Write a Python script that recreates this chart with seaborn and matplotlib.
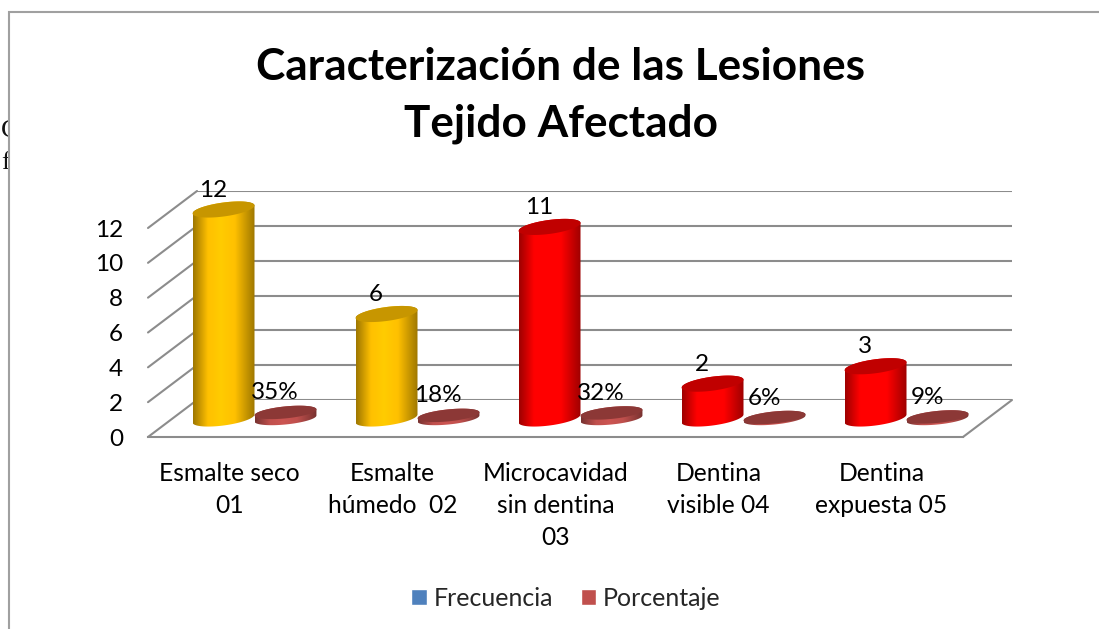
import numpy as np
import pandas as pd
import matplotlib
matplotlib.use("Agg")
import matplotlib.pyplot as plt
import seaborn as sns
from matplotlib.colors import LinearSegmentedColormap, to_rgb
from matplotlib.patches import ConnectionPatch, PathPatch, Polygon, Rectangle
from matplotlib.path import Path

categories = ["Esmalte seco\n01", "Esmalte\nhúmedo  02", "Microcavidad\nsin dentina\n03",
              "Dentina\nvisible 04", "Dentina\nexpuesta 05"]
frecuencia = [12, 6, 11, 2, 3]
porcentaje = [0.35, 0.18, 0.32, 0.06, 0.09]
freq_labels = ["12", "6", "11", "2", "3"]
pct_labels = ["35%", "18%", "32%", "6%", "9%"]
freq_colors = ["#FFC000", "#FFC000", "#FF0000", "#FF0000", "#FF0000"]
freq_tops = ["#C79600", "#C79600", "#C00000", "#C00000", "#C00000"]
yticks = [0, 2, 4, 6, 8, 10, 12]

W, H = 1099, 629
# front plane of the 3d box, in pixels
LEFT, RIGHT, BOTTOM, TOP = 148, 963, 437, 228
PX_Y = (BOTTOM - TOP) / 12
GREY = "#8C8C8C"

sns.set_theme(style="white")
plt.rcParams["font.family"] = ["Lato", "DejaVu Sans"]

df = pd.DataFrame({
    "categoria": categories * 2,
    "valor": frecuencia + porcentaje,
    "serie": ["Frecuencia"] * 5 + ["Porcentaje"] * 5,
})


def box_axes(fig, dx, dy):
    ax = fig.add_axes([(LEFT + dx) / W, 1 - (BOTTOM - dy) / H,
                       (RIGHT - LEFT) / W, (BOTTOM - TOP) / H])
    ax.patch.set_alpha(0)
    for s in ax.spines.values():
        s.set_visible(False)
    return ax


def cylinder(ax, cx, half, value, color, top_color, z, b=7, tilt=4):
    # outline: bottom arc, then top arc; b and tilt are pixels
    t = np.linspace(np.pi, 2 * np.pi, 40)
    body = np.column_stack([cx + half * np.cos(t),
                            (b * np.sin(t) + tilt * np.cos(t)) / PX_Y])
    t2 = np.linspace(0, np.pi, 40)
    up = np.column_stack([cx + half * np.cos(t2),
                          value + (b * np.sin(t2) + tilt * np.cos(t2)) / PX_Y])
    clip = PathPatch(Path(np.vstack([body, up, body[:1]])), transform=ax.transData,
                     fc="none", ec="none", clip_on=False)
    ax.add_patch(clip)

    base = np.array(to_rgb(color))
    dark = base * 0.62
    light = np.minimum(base * 1.06, 1)
    cmap = LinearSegmentedColormap.from_list("cyl", [(0, dark), (0.24, base), (0.45, light),
                                                     (0.68, base), (1, dark)])
    grad = np.linspace(0, 1, 128).reshape(1, -1)
    im = ax.imshow(grad, cmap=cmap, aspect="auto", zorder=z, interpolation="bilinear",
                   extent=(cx - half, cx + half, -1, value + 1))
    im.set_clip_box(ax.figure.bbox)
    im.set_clip_path(clip)

    t3 = np.linspace(0, 2 * np.pi, 80)
    ax.add_patch(Polygon(np.column_stack([cx + half * np.cos(t3),
                                          value + (b * np.sin(t3) + tilt * np.cos(t3)) / PX_Y]),
                         closed=True, fc=top_color, ec="none", zorder=z + 0.1, clip_on=False))


fig = plt.figure(figsize=(W / 100, H / 100), dpi=100)
fig.patch.set_facecolor("white")

# page text that the chart covers
fig.text(1 / W, 1 - 131 / H, "C", family="Liberation Serif", fontsize=19, color="#111111",
         ha="left", va="center", zorder=-2)
fig.text(1 / W, 1 - 163 / H, "f", family="Liberation Serif", fontsize=19, color="#111111",
         ha="left", va="center", zorder=-2)
fig.add_artist(Rectangle((9 / W, -0.1), 1.2, 1.1 - 12 / H, transform=fig.transFigure,
                         fc="white", ec="#A0A0A0", lw=1.5, zorder=-1))

back = box_axes(fig, 49, 37)
back.set_zorder(0)
front = box_axes(fig, 0, 0)
front.set_zorder(1)
mid = box_axes(fig, 25, 18.5)
mid.set_zorder(3)

# back wall
back.set_xlim(-0.5, 4.5)
back.set_ylim(0, 12)
back.set_yticks(yticks)
back.set_xticks([])
back.tick_params(labelleft=False, length=0)
back.grid(axis="y", color=GREY, lw=1.5)
back.set_axisbelow(True)

# bars go through seaborn, the cylinders are built on top of them
sns.barplot(data=df, x="categoria", y="valor", hue="serie", ax=mid, width=0.76, gap=0,
            palette=["#4F81BD", "#C0504D"], saturation=1, errorbar=None)
handles, labels = mid.get_legend_handles_labels()
mid.legend(handles, labels, loc="center", bbox_to_anchor=(566 / W, 1 - 598 / H),
           bbox_transform=fig.transFigure, ncol=2, frameon=False, fontsize=18,
           handlelength=0.62, handleheight=0.62, handletextpad=0.28, columnspacing=1.1)
mid.set_xlim(-0.5, 4.5)
mid.set_ylim(0, 12)
mid.set_xticks([])
mid.set_yticks([])
mid.set_xlabel("")
mid.set_ylabel("")

for k, (container, vals, texts) in enumerate(zip(mid.containers, (frecuencia, porcentaje),
                                                 (freq_labels, pct_labels))):
    for i, bar in enumerate(container):
        cx = bar.get_x() + bar.get_width() / 2
        half = bar.get_width() / 2
        bar.set_visible(False)
        if k == 0:
            cylinder(mid, cx, half, vals[i], freq_colors[i], freq_tops[i], 2 + i)
        else:
            cylinder(mid, cx, half, vals[i], "#C0504D", "#8C3836", 10 + i, b=6, tilt=3)
        lab = mid.annotate(texts[i], (cx, vals[i]), xytext=(-7.5, 14), textcoords="offset points",
                           ha="center", va="center", fontsize=17.5, color="black", zorder=20)
        lab.set_clip_on(False)
mid.set_xlim(-0.5, 4.5)
mid.set_ylim(0, 12)

# front plane, holds the ticks
front.set_xlim(-0.5, 4.5)
front.set_ylim(0, 12)
front.set_yticks(yticks)
front.set_xticks(range(5))
front.set_xticklabels(categories, linespacing=1.47)
front.tick_params(axis="y", length=0, pad=18, labelsize=17.5, labelcolor="black")
front.tick_params(axis="x", length=0, pad=18, labelsize=17.7, labelcolor="black")
front.spines["bottom"].set_visible(True)
front.spines["bottom"].set_color(GREY)
front.spines["bottom"].set_linewidth(1.5)

# side wall and floor edge
for v in yticks:
    fig.add_artist(ConnectionPatch((-0.5, v), (-0.5, v), "data", "data", axesA=front, axesB=back,
                                   color=GREY, lw=1.5, zorder=0.5))
fig.add_artist(ConnectionPatch((4.5, 0), (4.5, 0), "data", "data", axesA=front, axesB=back,
                               color=GREY, lw=1.5, zorder=0.5))

fig.text(561 / W, 1 - 95 / H, "Caracterización de las Lesiones\nTejido Afectado",
         ha="center", va="center", fontsize=31.8, fontweight="bold", color="black", linespacing=1.5)

fig.savefig("out.png", dpi=100)
